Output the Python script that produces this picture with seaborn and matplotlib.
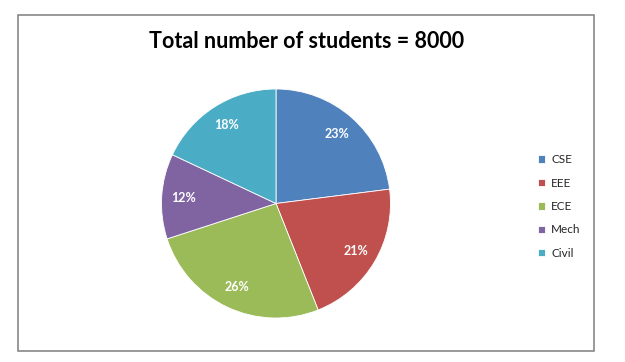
import matplotlib
matplotlib.use("Agg")
import matplotlib.pyplot as plt
import seaborn as sns
from matplotlib.patches import Rectangle

categories = ["CSE", "EEE", "ECE", "Mech", "Civil"]
shares = [23, 21, 26, 12, 18]
colors = ["#4F81BD", "#C0504D", "#9BBB59", "#8064A2", "#4BACC6"]
title = "Total number of students = 8000"

sns.set_style("white")
plt.rcParams['font.family'] = ['Lato', 'DejaVu Sans']

W, H = 625, 362
fig = plt.figure(figsize=(W / 100, H / 100), dpi=100)
fig.patch.set_facecolor("white")

# outer chart border
fig.add_artist(Rectangle((18 / W, 11 / H), 576 / W, 336 / H, transform=fig.transFigure,
                         fill=False, edgecolor="#888888", linewidth=1.2))

cx, cy, r = 276, 203.5, 114.5
ax = fig.add_axes([(cx - r) / W, (H - cy - r) / H, 2 * r / W, 2 * r / H])
wedges, texts, autotexts = ax.pie(
    shares, colors=colors, startangle=90, counterclock=False,
    autopct="%d%%", pctdistance=0.81, radius=1.0,
    wedgeprops=dict(linewidth=0.6, edgecolor="white"),
    textprops=dict(color="white", fontsize=9, fontweight="bold"))
ax.set_xlim(-1, 1)
ax.set_ylim(-1, 1)
ax.set_aspect("equal")
ax.axis("off")

fig.text(307 / W, 1 - 41 / H, title, ha="center", va="center",
         fontsize=15.5, fontweight="bold", color="black")

leg = fig.legend(wedges, categories, loc="upper left",
                 bbox_to_anchor=(530 / W, 1 - 146 / H), frameon=False,
                 fontsize=8.5, handlelength=0.6, handleheight=0.6,
                 handletextpad=0.5, labelspacing=1.05, borderpad=0.2)

fig.savefig("out.png", dpi=100, facecolor="white")
